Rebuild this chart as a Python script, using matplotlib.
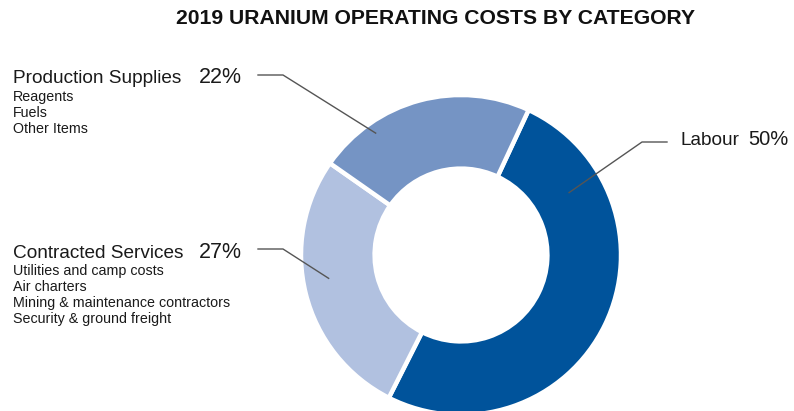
import numpy as np
import matplotlib
matplotlib.use("Agg")
import matplotlib.pyplot as plt
from matplotlib import font_manager
from matplotlib.lines import Line2D

# ---- data ----
categories = ["Labour", "Contracted Services", "Production Supplies"]
shares = [50, 27, 22]
details = {
    "Labour": [],
    "Contracted Services": ["Utilities and camp costs", "Air charters",
                            "Mining & maintenance contractors", "Security & ground freight"],
    "Production Supplies": ["Reagents", "Fuels", "Other Items"],
}
title = "2019 URANIUM OPERATING COSTS BY CATEGORY"

colors = ["#00539B", "#B1C1E0", "#7594C4"]

W, H = 794, 411
fig = plt.figure(figsize=(W / 100, H / 100), dpi=100)

def has_font(name):
    try:
        font_manager.findfont(font_manager.FontProperties(family=name), fallback_to_default=False)
        return True
    except Exception:
        return False

narrow = has_font("Liberation Sans Narrow")
title_family = ["Liberation Sans Narrow"] if narrow else ["Liberation Sans"]
title_size = 18.5 if narrow else 15.2
body = ["Liberation Sans", "DejaVu Sans"]

# pie axes: centre (461,255) px from top, radius 160 px
cx, cy, R = 461, 255, 160
ax = fig.add_axes([(cx - R) / W, (H - cy - R) / H, 2 * R / W, 2 * R / H])
wedges, _ = ax.pie(shares, colors=colors, startangle=65, counterclock=False,
                   radius=1.0, wedgeprops=dict(width=0.46, edgecolor="white", linewidth=3.2))
ax.set_xlim(-1, 1)
ax.set_ylim(-1, 1)
ax.set_aspect("equal")
ax.axis("off")

def fx(px):
    return px / W

def fy(py):
    return 1 - py / H

fig.text(fx(436), fy(18), title, family=title_family, weight="bold",
         fontsize=title_size, ha="center", va="center", color="#111111")

txt_col = "#1a1a1a"
line_col = "#555555"

# label layout
layout = {
    "Production Supplies": dict(x=13, px=199, psize=15.5, y=83, subs=[101, 117, 133], ang=325, r=0.93,
                                line=[(258, 75), (283, 75)]),
    "Contracted Services": dict(x=13, px=199, psize=15.5, y=258, subs=[275, 291, 307, 323], ang=260, r=0.84,
                                line=[(258, 249), (283, 249)]),
    "Labour": dict(x=680, px=748, psize=14.5, y=145, subs=[], ang=60, r=0.78,
                   line=[(667, 142), (642, 142)]),
}

for cat, val in zip(categories, shares):
    L = layout[cat]
    fig.text(fx(L["x"]), fy(L["y"]), cat, family=body,
             fontsize=13.7, ha="left", va="baseline", color=txt_col)
    fig.text(fx(L["px"]), fy(L["y"]), f"{val}%", family=body,
             fontsize=L["psize"], ha="left", va="baseline", color=txt_col)
    for item, yb in zip(details[cat], L["subs"]):
        fig.text(fx(L["x"]), fy(yb), item, family=body, fontsize=10.3,
                 ha="left", va="baseline", color=txt_col)
    (x0, y0), (x1, y1) = L["line"]
    a = np.deg2rad(L["ang"])
    axx, axy = L["r"] * np.sin(a), L["r"] * np.cos(a)
    disp = ax.transData.transform((axx, axy))
    fig_pt = fig.transFigure.inverted().transform(disp)
    fig.add_artist(Line2D([fx(x0), fx(x1), fig_pt[0]], [fy(y0), fy(y1), fig_pt[1]],
                          transform=fig.transFigure, color=line_col, lw=1.0))

fig.savefig("out.png", dpi=100)
